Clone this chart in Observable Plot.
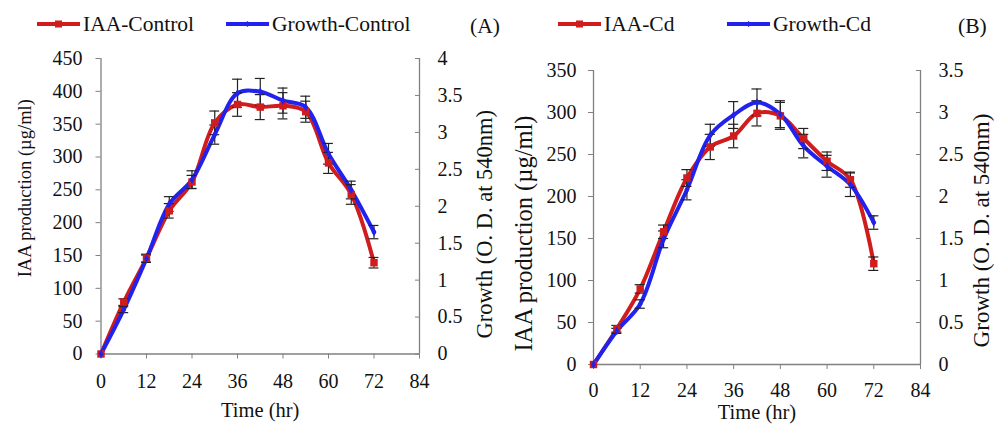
<!DOCTYPE html>
<html><head><meta charset="utf-8">
<script src="https://cdn.jsdelivr.net/npm/d3@7"></script>
<script src="https://cdn.jsdelivr.net/npm/@observablehq/plot@0.6"></script>
<style>
body{margin:0;background:#fff;font-family:"Liberation Serif","Times New Roman",serif;}
#wrap{position:relative;width:994px;height:425px;overflow:hidden;background:#fff;}
.panel{position:absolute;top:45px;width:497px;height:380px;}
.item{position:absolute;top:12px;height:24px;display:flex;align-items:center;font-size:21.5px;line-height:24px;color:#111;white-space:nowrap;font-family:"Liberation Serif","Times New Roman",serif;}
.item svg{display:block;margin-right:3px;}
svg g[aria-label$="axis tick"]{stroke:#808080;}
</style>
</head><body>
<div id="wrap"></div>
<script>
// ---- data ----
const time = [0, 6, 12, 18, 24, 30, 36, 42, 48, 54, 60, 66, 72];
const xTicks = [0, 12, 24, 36, 48, 60, 72, 84];

// Panel A (Control)
const iaaControl      = [0, 79, 146, 218, 262, 352, 380, 376, 378, 369, 291, 243, 139];
const iaaControlErr   = [0, 5, 6, 11, 10, 18, 18, 19, 20, 16, 16, 15, 8];
const growthControl   = [0, 0.60, 1.29, 2.03, 2.36, 2.97, 3.53, 3.55, 3.43, 3.34, 2.71, 2.22, 1.65];
const growthControlErr= [0, 0.04, 0.05, 0.10, 0.12, 0.13, 0.19, 0.18, 0.17, 0.15, 0.14, 0.12, 0.09];
const iaaTicksA    = [0, 50, 100, 150, 200, 250, 300, 350, 400, 450];
const growthTicksA = [0, 0.5, 1, 1.5, 2, 2.5, 3, 3.5, 4];

// Panel B (Cd)
const iaaCd        = [0, 42.5, 90, 158, 222, 259, 272, 299, 296, 269, 242, 220, 120];
const iaaCdErr     = [0, 4, 5, 8, 10, 15, 14, 15, 16, 12, 11, 9, 8];
const growthCd     = [0, 0.40, 0.72, 1.49, 2.08, 2.73, 2.97, 3.12, 2.98, 2.60, 2.36, 2.14, 1.69];
const growthCdErr  = [0, 0.03, 0.05, 0.10, 0.12, 0.13, 0.16, 0.16, 0.16, 0.14, 0.13, 0.14, 0.08];
const iaaTicksB    = [0, 50, 100, 150, 200, 250, 300, 350];
const growthTicksB = [0, 0.5, 1, 1.5, 2, 2.5, 3, 3.5];

const RED = "#d01c1c", BLUE = "#2222ee", AXIS = "#808080";
const FONT = "\"Liberation Serif\", \"Times New Roman\", serif";

function buildPanel(cfg) {
  const k = cfg.iaaMax / cfg.gMax;
  const rows = time.map((t, i) => ({
    t, iaa: cfg.iaa[i], iaaErr: cfg.iaaErr[i], g: cfg.growth[i] * k, gErr: cfg.growthErr[i] * k
  }));
  const errRows = rows.filter(d => d.t > 0);
  const cap = 1.3;
  const errMarks = (y, e) => [
    Plot.ruleX(errRows, {x: "t", y1: d => d[y] - d[e], y2: d => d[y] + d[e], stroke: "#222", strokeWidth: 1.2}),
    Plot.ruleY(errRows, {y: d => d[y] + d[e], x1: d => d.t - cap, x2: d => d.t + cap, stroke: "#222", strokeWidth: 1.2}),
    Plot.ruleY(errRows, {y: d => d[y] - d[e], x1: d => d.t - cap, x2: d => d.t + cap, stroke: "#222", strokeWidth: 1.2})
  ];
  return Plot.plot({
    width: 497, height: 380,
    marginLeft: cfg.mL, marginRight: cfg.mR, marginTop: cfg.mT, marginBottom: cfg.mB,
    style: {fontFamily: FONT, fontSize: "20px", color: "#111", background: "transparent", overflow: "visible"},
    x: {domain: [0, 84]},
    y: {domain: [0, cfg.iaaMax]},
    marks: [
      Plot.ruleX([0, 84], {stroke: AXIS, strokeWidth: 1.3}),
      Plot.ruleY([0], {stroke: AXIS, strokeWidth: 1.3}),
      Plot.axisX(xTicks, {anchor: "bottom", tickSize: 5, tickPadding: cfg.xPad, fontSize: 20, label: null}),
      Plot.axisY(cfg.iaaTicks, {anchor: "left", tickSize: 5, tickPadding: cfg.yPad, fontSize: 20, label: null}),
      Plot.axisY(cfg.gTicks.map(g => g * k), {anchor: "right", tickSize: -5, tickPadding: 23, fontSize: 20, label: null,
        tickFormat: d => String(Math.round(d / k * 100) / 100)}),
      Plot.line(rows, {x: "t", y: "iaa", stroke: RED, strokeWidth: 4, curve: "catmull-rom"}),
      Plot.line(rows, {x: "t", y: "g", stroke: BLUE, strokeWidth: 4, curve: "catmull-rom"}),
      ...errMarks("iaa", "iaaErr"),
      ...errMarks("g", "gErr"),
      Plot.dot(rows, {x: "t", y: "iaa", symbol: "square", r: 4.2, fill: RED, stroke: null}),
      Plot.dot(rows, {x: "t", y: "g", symbol: "diamond", r: 2.6, fill: BLUE, stroke: null}),
      Plot.text([cfg.leftTitle], {text: d => d, frameAnchor: "left", rotate: -90, dx: cfg.ltDx, dy: cfg.ltDy, fontSize: cfg.ltSize, lineAnchor: "middle", textAnchor: "middle", fill: "#111"}),
      Plot.text([cfg.rightTitle], {text: d => d, frameAnchor: "right", rotate: -90, dx: cfg.rtDx, dy: cfg.rtDy, fontSize: cfg.rtSize, lineAnchor: "middle", textAnchor: "middle", fill: "#111"}),
      Plot.text([cfg.xTitle], {text: d => d, frameAnchor: "bottom", dy: cfg.xtDy, fontSize: 20.5, lineAnchor: "middle", textAnchor: "middle", fill: "#111"})
    ]
  });
}

const wrap = document.getElementById("wrap");

const panels = [
  {left: 0, iaa: iaaControl, iaaErr: iaaControlErr, growth: growthControl, growthErr: growthControlErr,
   iaaMax: 450, gMax: 4, iaaTicks: iaaTicksA, gTicks: growthTicksA,
   mL: 100.5, mR: 78, mT: 13, mB: 71.5, xPad: 14.5, yPad: 13.5,
   leftTitle: "IAA production (µg/ml)", ltDx: -75.5, ltDy: -18, ltSize: 18.5,
   rightTitle: "Growth (O. D. at 540nm)", rtDx: 65, rtDy: 18, rtSize: 22.5,
   xTitle: "Time (hr)", xtDy: 56},
  {left: 497, iaa: iaaCd, iaaErr: iaaCdErr, growth: growthCd, growthErr: growthCdErr,
   iaaMax: 350, gMax: 3.5, iaaTicks: iaaTicksB, gTicks: growthTicksB,
   mL: 96, mR: 74, mT: 25, mB: 61, xPad: 13.5, yPad: 12,
   leftTitle: "IAA production (µg/ml)", ltDx: -69, ltDy: 16, ltSize: 24.5,
   rightTitle: "Growth (O. D. at 540nm)", rtDx: 61, rtDy: 13, rtSize: 23,
   xTitle: "Time (hr)", xtDy: 48}
];

for (const p of panels) {
  const div = document.createElement("div");
  div.className = "panel";
  div.style.left = p.left + "px";
  div.appendChild(buildPanel(p));
  wrap.appendChild(div);
}

// ---- legends ----
const legendItems = [
  {label: "IAA-Control", color: RED, marker: "square", left: 37, w: 43},
  {label: "Growth-Control", color: BLUE, marker: "diamond", left: 226, w: 43},
  {label: "IAA-Cd", color: RED, marker: "square", left: 558, w: 43},
  {label: "Growth-Cd", color: BLUE, marker: "diamond", left: 727, w: 43}
];
for (const it of legendItems) {
  const d = document.createElement("div");
  d.className = "item";
  d.style.left = it.left + "px";
  const m = it.marker === "square"
    ? `<rect x="${it.w/2-3.5}" y="2.5" width="7" height="7" fill="${it.color}"/>`
    : `<path d="M${it.w/2},3 L${it.w/2+3},6 L${it.w/2},9 L${it.w/2-3},6Z" fill="${it.color}"/>`;
  d.innerHTML = `<svg width="${it.w}" height="12"><line x1="0" x2="${it.w}" y1="6" y2="6" stroke="${it.color}" stroke-width="4"/>${m}</svg><span>${it.label}</span>`;
  wrap.appendChild(d);
}
const panelTags = [{label: "(A)", left: 470}, {label: "(B)", left: 958}];
for (const t of panelTags) {
  const d = document.createElement("div");
  d.className = "item";
  d.style.left = t.left + "px";
  d.style.top = "14px";
  d.textContent = t.label;
  wrap.appendChild(d);
}
</script>
</body></html>
